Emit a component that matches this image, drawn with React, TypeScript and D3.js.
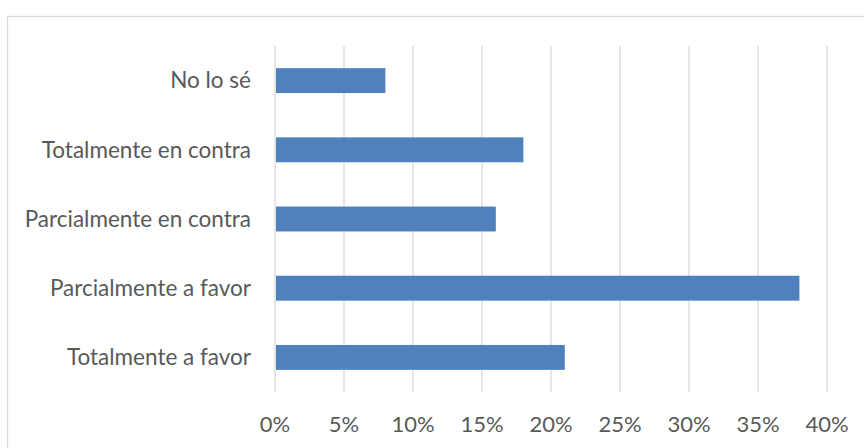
import React, { useEffect, useRef } from "react";
import * as d3 from "d3";

const categories = [
  "No lo sé",
  "Totalmente en contra",
  "Parcialmente en contra",
  "Parcialmente a favor",
  "Totalmente a favor",
];
const values = [8, 18, 16, 38, 21];
const ticks = [0, 5, 10, 15, 20, 25, 30, 35, 40];

const WIDTH = 864;
const HEIGHT = 448;
const BAR_COLOR = "#4f81bd";
const TEXT_COLOR = "#595959";
const GRID_COLOR = "#d9d9d9";
const FONT = "Lato, 'Open Sans', sans-serif";

export default function App() {
  const svgRef = useRef<SVGSVGElement>(null);

  useEffect(() => {
    if (!svgRef.current) return;
    const svg = d3.select(svgRef.current);
    svg.selectAll("*").remove();

    const margin = { top: 46, right: 37, bottom: 56, left: 275 };
    const width = WIDTH - margin.left - margin.right;
    const chartHeight = HEIGHT - margin.top - margin.bottom;

    // chart frame (runs off the right / bottom edge)
    svg
      .append("rect")
      .attr("x", 7.5)
      .attr("y", 16.5)
      .attr("width", 880)
      .attr("height", 460)
      .attr("fill", "#fff")
      .attr("stroke", GRID_COLOR)
      .attr("stroke-width", 1.3);

    const g = svg
      .append("g")
      .attr("transform", `translate(${margin.left},${margin.top})`);

    const x = d3.scaleLinear().domain([0, 40]).range([0, width]);
    const y = d3
      .scaleBand<string>()
      .domain(categories)
      .range([0, chartHeight])
      .paddingInner(0.64)
      .paddingOuter(0.32);

    // vertical grid lines
    g.append("g")
      .selectAll("line")
      .data(ticks)
      .enter()
      .append("line")
      .attr("x1", (d) => x(d))
      .attr("x2", (d) => x(d))
      .attr("y1", 0)
      .attr("y2", chartHeight)
      .attr("stroke", GRID_COLOR)
      .attr("stroke-width", 1.3);

    // bars
    g.append("g")
      .selectAll("rect")
      .data(values)
      .enter()
      .append("rect")
      .attr("x", x(0) + 1)
      .attr("y", (_, i) => y(categories[i])!)
      .attr("width", (d) => x(d) - x(0) - 1)
      .attr("height", y.bandwidth())
      .attr("fill", BAR_COLOR);

    // category labels
    g.append("g")
      .selectAll("text")
      .data(categories)
      .enter()
      .append("text")
      .attr("x", -24)
      .attr("y", (d) => y(d)! + y.bandwidth() / 2)
      .attr("dy", "0.35em")
      .attr("text-anchor", "end")
      .attr("font-family", FONT)
      .attr("font-size", "22.5px")
      .attr("fill", TEXT_COLOR)
      .text((d) => d);

    // x tick labels
    g.append("g")
      .selectAll("text")
      .data(ticks)
      .enter()
      .append("text")
      .attr("x", (d) => x(d))
      .attr("y", chartHeight + 32)
      .attr("dy", "0.35em")
      .attr("text-anchor", "middle")
      .attr("font-family", FONT)
      .attr("font-size", "22px")
      .attr("fill", TEXT_COLOR)
      .text((d) => `${d}%`);
  }, []);

  return (
    <div style={{ position: "absolute", left: 0, top: 0 }}>
      <svg ref={svgRef} width={WIDTH} height={HEIGHT} style={{ display: "block" }}></svg>
    </div>
  );
}
